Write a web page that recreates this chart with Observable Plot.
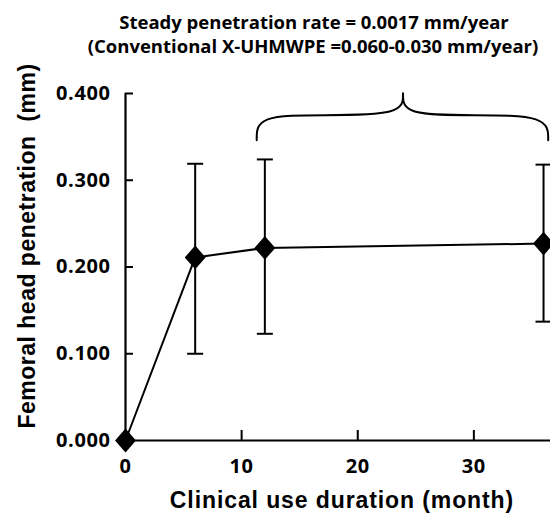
<!DOCTYPE html>
<html>
<head>
<meta charset="utf-8">
<script src="https://cdn.jsdelivr.net/npm/d3@7"></script>
<script src="https://cdn.jsdelivr.net/npm/@observablehq/plot@0.6"></script>
<style>
  html, body { margin: 0; padding: 0; background: #fff; }
</style>
</head>
<body>
<div id="chart"></div>
<script>
// ---- data ----
const months = [0, 6, 12, 36];
const penetration = [0.000, 0.211, 0.222, 0.227];
const errLow = [null, 0.100, 0.123, 0.137];
const errHigh = [null, 0.319, 0.324, 0.318];

const xTicks = [0, 10, 20, 30];
const yTicks = [0.0, 0.1, 0.2, 0.3, 0.4];

const titleLines = [
  "Steady penetration rate = 0.0017 mm/year",
  "(Conventional X-UHMWPE =0.060-0.030 mm/year)"
];
const xLabel = "Clinical use duration (month)";
const yLabel = "Femoral head penetration  (mm)";

// brace annotation (months, mm) — control points, two halves
const braceMonths = [11.3, 11.3, 17.0, 23.9, 23.9,   23.9, 23.9, 30.0, 36.4, 36.4];
const braceValues = [0.346, 0.375, 0.375, 0.375, 0.400,   0.400, 0.375, 0.375, 0.375, 0.346];
const braceSide   = ["L", "L", "L", "L", "L",   "R", "R", "R", "R", "R"];

// ---- derived tables ----
const points = months.map((m, i) => ({month: m, value: penetration[i], lo: errLow[i], hi: errHigh[i]}));
const bars = points.filter(d => d.lo != null);
const caps = bars.flatMap(d => [{month: d.month, value: d.lo}, {month: d.month, value: d.hi}]);
const brace = braceMonths.map((m, i) => ({month: m, value: braceValues[i], side: braceSide[i]}));

// custom symbols
const diamond = {
  draw(context, size) {
    const r = Math.sqrt(size / Math.PI);
    const w = r * 0.95, h = r * 1.08;
    context.moveTo(0, -h);
    context.lineTo(w, 0);
    context.lineTo(0, h);
    context.lineTo(-w, 0);
    context.closePath();
  }
};
const capSymbol = {
  draw(context, size) {
    const r = Math.sqrt(size / Math.PI);
    context.moveTo(-r, 0);
    context.lineTo(r, 0);
  }
};

const tickFont = "'Open Sans', sans-serif";
const labelFont = "'Liberation Sans', Arial, sans-serif";

const plot = Plot.plot({
  width: 550,
  height: 513,
  marginTop: 93,
  marginLeft: 125,
  marginRight: 0,
  marginBottom: 73,
  style: {background: "#fff", color: "#000", overflow: "visible"},
  x: {domain: [0, 36.6], axis: null},
  y: {domain: [0, 0.4], axis: null},
  marks: [
    // axes lines
    Plot.ruleY([0], {stroke: "#000", strokeWidth: 2.2}),
    Plot.ruleX([0], {stroke: "#000", strokeWidth: 2.2}),
    Plot.axisY({
      ticks: yTicks, tickSize: -8, tickPadding: 23, tickFormat: d3.format(".3f"),
      strokeWidth: 2, label: null,
      fontFamily: tickFont, fontSize: 20, fontWeight: 700
    }),
    Plot.axisX({
      ticks: xTicks, tickSize: -10, tickPadding: 28, tickFormat: d3.format("d"),
      strokeWidth: 2, label: null,
      fontFamily: tickFont, fontSize: 20, fontWeight: 700
    }),
    // brace
    Plot.line(brace, {x: "month", y: "value", z: "side", curve: "basis", stroke: "#000", strokeWidth: 2}),
    // error bars
    Plot.ruleX(bars, {x: "month", y1: "lo", y2: "hi", stroke: "#000", strokeWidth: 2}),
    Plot.dot(caps, {x: "month", y: "value", symbol: capSymbol, r: 8, stroke: "#000", strokeWidth: 2, fill: "none"}),
    // line + markers
    Plot.line(points, {x: "month", y: "value", stroke: "#000", strokeWidth: 2}),
    Plot.dot(points, {x: "month", y: "value", symbol: diamond, r: 11, fill: "#000", stroke: "none"}),
    // titles
    Plot.text([titleLines[0]], {frameAnchor: "top", dx: -24, dy: -70, text: d => d, lineAnchor: "middle",
      fontFamily: tickFont, fontSize: 18.5, fontWeight: 700}),
    Plot.text([titleLines[1]], {frameAnchor: "top", dx: -25, dy: -46, text: d => d, lineAnchor: "middle",
      fontFamily: tickFont, fontSize: 18.5, fontWeight: 700}),
    // axis labels
    Plot.text([xLabel], {frameAnchor: "bottom", dx: 4, dy: 60, text: d => d, lineAnchor: "middle", textAnchor: "middle",
      fontFamily: labelFont, fontSize: 23, fontWeight: 700}),
    Plot.text([yLabel], {frameAnchor: "left", dx: -98, dy: -21, rotate: -90, text: d => d, lineAnchor: "middle", textAnchor: "middle",
      fontFamily: labelFont, fontSize: 23, fontWeight: 700})
  ]
});
// slightly wider letter spacing for the axis titles and tick labels
plot.querySelectorAll("text").forEach(t => {
  const s = t.textContent;
  if (s === xLabel) t.style.letterSpacing = "0.9px";
  else if (s === yLabel) t.style.letterSpacing = "0.5px";
  else if (/^[0-9.]+$/.test(s)) t.style.letterSpacing = "0.6px";
});
document.getElementById("chart").appendChild(plot);
</script>
</body>
</html>
